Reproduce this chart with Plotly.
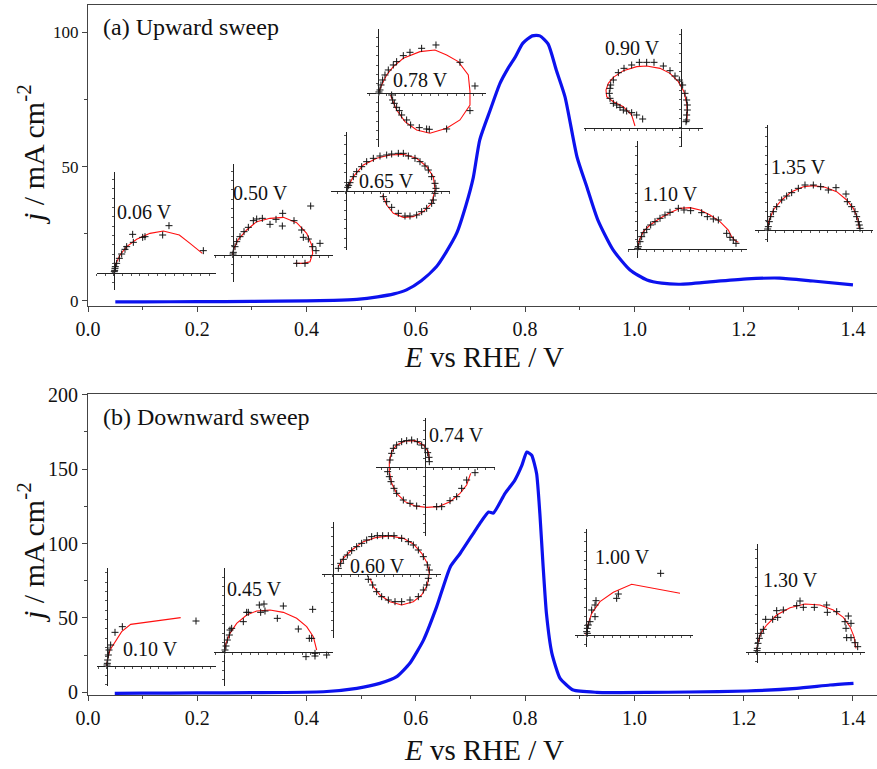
import plotly.graph_objects as go

# ---------------- figure geometry ----------------
FIG_W, FIG_H = 877, 769
M_L, M_R, M_T, M_B = 88, 0, 5, 74
PW = FIG_W - M_L - M_R
PH = FIG_H - M_T - M_B
FONT = "Liberation Serif"

# ---------------- main curves ----------------
E_up = [0.05, 0.10, 0.20, 0.30, 0.40, 0.45, 0.492, 0.53, 0.56, 0.583, 0.61, 0.638,
        0.655, 0.675, 0.692, 0.705, 0.717, 0.736, 0.754, 0.769, 0.781, 0.796, 0.813,
        0.827, 0.842, 0.857, 0.873, 0.895, 0.913, 0.933, 0.961, 0.992, 1.023, 1.05,
        1.084, 1.144, 1.206, 1.266, 1.327, 1.40]
j_up = [-0.4, -0.35, -0.3, -0.2, 0.0, 0.2, 0.6, 1.5, 2.6, 4.1, 7.5, 12.8,
        18.0, 25.3, 35.8, 45.8, 60.0, 71.0, 81.0, 86.7, 90.5, 96.0, 98.7,
        98.7, 95.7, 86.0, 76.0, 53.6, 42.4, 30.2, 19.0, 11.5, 7.8, 6.6,
        6.2, 7.2, 8.2, 8.5, 7.4, 6.0]

E_down = [0.049, 0.10, 0.20, 0.30, 0.431, 0.492, 0.534, 0.565, 0.589, 0.614, 0.638,
          0.663, 0.681, 0.705, 0.717, 0.733, 0.742, 0.763, 0.781, 0.794, 0.803,
          0.812, 0.821, 0.827, 0.833, 0.839, 0.849, 0.864, 0.888, 0.931, 1.023,
          1.10, 1.206, 1.297, 1.358, 1.401]
j_down = [-0.7, -0.6, -0.4, -0.2, 0.4, 2.7, 6.0, 10.5, 19.5, 35.1, 57.4,
          84.3, 93.3, 106.7, 113.4, 121.2, 120.5, 133.6, 142.5, 152.5, 161.5,
          159.3, 147.0, 120.1, 84.3, 53.0, 26.2, 9.4, 1.5, 0.0, -0.1,
          0.2, 0.9, 2.7, 4.9, 6.0]

x_ticks_major = 0.2
x_ticks_minor = 0.1

# ---------------- impedance insets (Z' right, -Z'' up, arbitrary units) ----------------
# (a) upward sweep
fit_a006 = [(0, 0), (6, 28), (18, 53), (38, 78), (68, 100), (108, 118), (148, 125),
            (196, 113), (228, 88), (265, 58)]
pts_a006 = [(1, 3), (2, 7), (3, 13), (4, 18), (8, 28), (16, 43), (23, 56), (33, 70),
            (38, 78), (56, 115), (58, 91), (86, 106), (93, 108), (146, 113), (165, 141),
            (268, 66)]

fit_a050 = [(0, 0), (4, 20), (17, 47), (42, 75), (72, 100), (112, 110), (152, 113),
            (192, 97), (222, 65), (237, 30), (240, 5), (232, -20), (212, -25), (187, -25)]
pts_a050 = [(1, 3), (2, 8), (7, 25), (12, 40), (22, 55), (34, 70), (47, 83), (62, 103),
            (72, 108), (89, 110), (112, 92), (130, 107), (149, 87), (150, 125),
            (184, 103), (207, 75), (212, 53), (227, 48), (234, 147), (240, 25),
            (250, 13), (262, 35), (192, -25), (217, -25)]

fit_a065 = [(5, 12), (22, 44), (52, 79), (92, 99), (132, 109), (172, 111), (212, 99),
            (242, 74), (262, 44), (267, 4), (257, -36), (232, -61), (202, -76),
            (172, -78), (142, -66), (122, -41), (110, -11)]
pts_a065 = [(5, 12), (8, 18), (12, 26), (22, 44), (32, 59), (47, 74), (62, 89), (82, 99),
            (102, 106), (122, 109), (137, 112), (157, 114), (172, 114), (187, 106),
            (207, 99), (222, 89), (237, 76), (247, 64), (257, 44), (267, 24), (270, 9),
            (267, -6), (262, -26), (257, -36), (242, -51), (227, -61), (212, -71),
            (192, -74), (177, -74), (157, -66), (137, -48), (122, -31), (112, -16)]

fit_a078 = [(2, 5), (10, 25), (25, 55), (45, 80), (75, 105), (125, 125), (170, 130),
            (205, 115), (240, 95), (270, 55), (275, 5), (275, -35), (245, -80),
            (205, -105), (155, -120), (115, -110), (80, -85), (55, -50), (40, -15),
            (37, -5)]
pts_a078 = [(2, 4), (5, 10), (8, 25), (13, 40), (20, 55), (30, 70), (45, 85), (55, 95),
            (75, 113), (95, 123), (130, 135), (173, 145), (245, 93), (290, 22),
            (275, -52), (40, -5), (43, -20), (48, -30), (55, -42), (63, -52), (70, -65),
            (85, -80), (97, -95), (123, -103), (145, -107), (153, -108), (205, -107)]

fit_a090 = [(-138, 5), (-148, 38), (-173, 63), (-203, 78), (-223, 93), (-225, 113),
            (-218, 133), (-203, 151), (-173, 171), (-133, 183), (-103, 185), (-63, 178),
            (-33, 163), (-8, 138), (9, 108), (17, 73), (19, 43), (17, 18)]
pts_a090 = [(-115, 26), (-133, 38), (-148, 45), (-163, 50), (-173, 53), (-183, 61),
            (-193, 68), (-203, 73), (-213, 88), (-215, 103), (-213, 118), (-211, 128),
            (-203, 143), (-188, 165), (-171, 178), (-148, 188), (-125, 196), (-103, 196),
            (-81, 196), (-53, 185), (-33, 171), (-18, 155), (-5, 143), (5, 128),
            (12, 103), (17, 83), (19, 68), (19, 53), (17, 38), (17, 23), (15, 18)]

fit_a110 = [(0, 0), (6, 28), (18, 53), (38, 73), (68, 93), (98, 110), (128, 123),
            (158, 125), (188, 118), (218, 103), (248, 83), (273, 58), (283, 38),
            (293, 26), (303, 21)]
pts_a110 = [(1, 3), (3, 8), (8, 23), (13, 38), (20, 50), (28, 60), (40, 73), (53, 83),
            (68, 93), (83, 103), (98, 111), (123, 123), (140, 118), (160, 116),
            (193, 110), (210, 98), (228, 91), (243, 88), (268, 48), (278, 36),
            (288, 28), (296, 18)]

fit_a135 = [(0, 0), (4, 25), (18, 60), (43, 90), (73, 115), (108, 130), (138, 133),
            (173, 128), (208, 115), (238, 90), (258, 65), (271, 35), (276, 5)]
pts_a135 = [(1, 3), (3, 10), (6, 25), (10, 40), (18, 55), (28, 70), (43, 90), (58, 102),
            (73, 112), (93, 125), (113, 135), (138, 135), (160, 130), (183, 120),
            (206, 127), (236, 108), (240, 85), (253, 70), (263, 55), (268, 40),
            (273, 25), (276, 15), (278, 5)]

# (b) downward sweep
fit_b010 = [(0, 0), (3, 23), (10, 48), (25, 73), (45, 103), (72, 125), (222, 145)]
pts_b010 = [(1, 3), (2, 8), (3, 18), (5, 33), (7, 48), (12, 63), (25, 101), (47, 118),
            (268, 135)]

fit_b045 = [(0, 0), (5, 25), (17, 55), (37, 85), (67, 110), (97, 122), (137, 125),
            (177, 118), (217, 100), (247, 75), (267, 45), (277, 5)]
pts_b045 = [(2, 5), (5, 17), (9, 35), (15, 50), (17, 65), (22, 70), (57, 90), (67, 118),
            (72, 118), (105, 140), (119, 143), (109, 118), (122, 122), (159, 100),
            (177, 137), (222, 68), (255, 40), (262, 40), (265, 127), (245, -15),
            (272, -13), (307, -10), (272, -5)]

fit_b060 = [(17, 23), (32, 48), (57, 73), (92, 98), (132, 111), (172, 115), (212, 108),
            (242, 91), (267, 63), (284, 33), (290, 3), (284, -32), (267, -62),
            (242, -82), (207, -92), (172, -82), (142, -62), (122, -37), (112, -12)]
pts_b060 = [(17, 18), (24, 33), (32, 45), (44, 58), (57, 71), (72, 83), (87, 93),
            (102, 103), (117, 113), (134, 116), (150, 116), (167, 116), (184, 116),
            (207, 108), (227, 98), (242, 88), (257, 73), (272, 53), (284, 28),
            (290, 13), (287, -12), (282, -32), (272, -47), (257, -67), (232, -77),
            (207, -82), (187, -82), (167, -77), (147, -67), (132, -52), (120, -32),
            (107, -15)]

fit_b074 = [(13, 22), (10, 47), (-5, 67), (-30, 80), (-60, 79), (-85, 67), (-100, 47),
            (-107, 17), (-107, -13), (-100, -48), (-85, -78), (-60, -103), (-30, -116),
            (5, -120), (40, -118), (75, -103), (105, -78), (125, -53), (137, -18)]
pts_b074 = [(13, 17), (12, 30), (8, 44), (0, 57), (-10, 67), (-23, 77), (-40, 82),
            (-55, 80), (-70, 77), (-85, 67), (-95, 57), (-100, 42), (-105, 22),
            (-112, -13), (-107, -28), (-102, -43), (-93, -63), (-85, -78), (-65, -98),
            (-45, -108), (-25, -116), (35, -118), (50, -118), (75, -100), (95, -88),
            (110, -63), (125, -38), (150, -16)]

fit_b100 = [(0, 0), (4, 25), (17, 65), (42, 100), (82, 128), (137, 152), (282, 125)]
pts_b100 = [(2, 10), (4, 5), (4, 20), (7, 30), (12, 40), (17, 75), (27, 90), (30, 103),
            (27, 55), (92, 110), (97, 123), (224, 185)]

fit_b130 = [(0, 0), (3, 25), (12, 55), (30, 80), (60, 110), (100, 132), (145, 143),
            (190, 140), (230, 125), (260, 103), (280, 75), (292, 45), (298, 10)]
pts_b130 = [(1, 3), (2, 10), (4, 25), (8, 40), (13, 55), (20, 67), (27, 97), (48, 97),
            (60, 123), (63, 103), (80, 125), (120, 138), (130, 152), (140, 133),
            (173, 133), (210, 140), (212, 118), (240, 120), (265, 90), (275, 107),
            (283, 85), (268, 70), (270, 42), (283, 42), (295, 27), (303, 15)]

inset_labels = ["0.06 V", "0.50 V", "0.65 V", "0.78 V", "0.90 V", "1.10 V", "1.35 V",
                "0.10 V", "0.45 V", "0.60 V", "0.74 V", "1.00 V", "1.30 V"]

# ---------------- inset placement (layout only) ----------------
UNIT = 3.0  # inset units per screen pixel
inset_layout = [
    # origin px (x, y), x range, y range, label position (inset units)
    dict(org=(114.0, 272.67), xr=(-52, 306), yr=(-52, 303), lab=(93, 181)),
    dict(org=(232.67, 255.0), xr=(-56, 300), yr=(-80, 273), lab=(82, 185)),
    dict(org=(346.0, 191.33), xr=(-46, 312), yr=(-176, 177), lab=(122, 31)),
    dict(org=(378.3, 93.3), xr=(-33, 323), yr=(-160, 192), lab=(127, 40)),
    dict(org=(681.0, 127.67), xr=(-291, 65), yr=(-57, 295), lab=(-145, 238)),
    dict(org=(637.33, 249.33), xr=(-27, 328), yr=(-27, 326), lab=(98, 165)),
    dict(org=(767.33, 230.0), xr=(-37, 316), yr=(-35, 315), lab=(93, 190)),
    dict(org=(106.67, 666.0), xr=(-30, 328), yr=(-60, 293), lab=(130, 50)),
    dict(org=(224.33, 651.67), xr=(-31, 325), yr=(-103, 250), lab=(92, 188)),
    dict(org=(332.67, 574.33), xr=(-33, 324), yr=(-192, 158), lab=(134, 26)),
    dict(org=(425.0, 467.33), xr=(-147, 210), yr=(-205, 147), lab=(95, 97)),
    dict(org=(586.0, 635.0), xr=(-33, 322), yr=(-35, 317), lab=(110, 235)),
    dict(org=(756.67, 651.67), xr=(-32, 325), yr=(-33, 322), lab=(102, 215)),
]
inset_fits = [fit_a006, fit_a050, fit_a065, fit_a078, fit_a090, fit_a110, fit_a135,
              fit_b010, fit_b045, fit_b060, fit_b074, fit_b100, fit_b130]
inset_pts = [pts_a006, pts_a050, pts_a065, pts_a078, pts_a090, pts_a110, pts_a135,
             pts_b010, pts_b045, pts_b060, pts_b074, pts_b100, pts_b130]


def px_to_paper_x(px):
    return (px - M_L) / PW


def px_to_paper_y(py):
    return (FIG_H - M_B - py) / PH


fig = go.Figure()

BLUE = "#0c12ee"
fig.add_trace(go.Scatter(x=E_up, y=j_up, xaxis="x", yaxis="y", mode="lines",
                         line=dict(color=BLUE, width=3.2, shape="spline", smoothing=0.6),
                         hoverinfo="skip"))
fig.add_trace(go.Scatter(x=E_down, y=j_down, xaxis="x2", yaxis="y2", mode="lines",
                         line=dict(color=BLUE, width=3.2, shape="spline", smoothing=0.5),
                         hoverinfo="skip"))

top_dom = [px_to_paper_y(306), 1.0]
bot_dom = [0.0, px_to_paper_y(394.3)]

axis_common = dict(showgrid=False, zeroline=False, showline=True, linecolor="#444",
                   linewidth=1, ticks="outside", ticklen=5, tickcolor="#444",
                   automargin=False,
                   tickfont=dict(family=FONT, size=20, color="#111"), fixedrange=True)

layout = dict(
    template="none",
    width=FIG_W, height=FIG_H, autosize=False,
    margin=dict(l=M_L, r=M_R, t=M_T, b=M_B, pad=0),
    paper_bgcolor="white", plot_bgcolor="rgba(0,0,0,0)",
    showlegend=False,
    font=dict(family=FONT),
    xaxis=dict(**axis_common, domain=[0, 1], range=[0, 1.444], anchor="y", mirror=True,
               dtick=x_ticks_major, tick0=0, tickformat=".1f",
               minor=dict(ticks="outside", ticklen=3, dtick=x_ticks_minor, tickcolor="#444")),
    xaxis2=dict(**axis_common, domain=[0, 1], range=[0, 1.444], anchor="y2", mirror=True,
                dtick=x_ticks_major, tick0=0, tickformat=".1f",
                minor=dict(ticks="outside", ticklen=3, dtick=x_ticks_minor, tickcolor="#444")),
    yaxis=dict(**{**axis_common, "tickfont": dict(family=FONT, size=17, color="#111")},
               domain=top_dom, range=[-1.9, 110.2], anchor="x", dtick=50, tick0=0,
               minor=dict(ticks="outside", ticklen=3, dtick=25, tickcolor="#444")),
    yaxis2=dict(**{**axis_common, "tickfont": dict(family=FONT, size=20, color="#111")},
                domain=bot_dom, range=[-1.8, 200.3], anchor="x2", dtick=50, tick0=0,
                minor=dict(ticks="outside", ticklen=3, dtick=25, tickcolor="#444")),
)

annotations = [
    dict(text="(a) Upward sweep", x=px_to_paper_x(101), y=px_to_paper_y(27.3),
         xref="paper", yref="paper", xanchor="left", yanchor="middle", showarrow=False,
         font=dict(family=FONT, size=24, color="#111")),
    dict(text="(b) Downward sweep", x=px_to_paper_x(101), y=px_to_paper_y(416.7),
         xref="paper", yref="paper", xanchor="left", yanchor="middle", showarrow=False,
         font=dict(family=FONT, size=24, color="#111")),
    dict(text="<i>E</i> vs RHE / V", x=px_to_paper_x(483.7), y=px_to_paper_y(357),
         xref="paper", yref="paper", xanchor="center", yanchor="middle", showarrow=False,
         font=dict(family=FONT, size=29, color="#111")),
    dict(text="<i>E</i> vs RHE / V", x=px_to_paper_x(483.7), y=px_to_paper_y(750),
         xref="paper", yref="paper", xanchor="center", yanchor="middle", showarrow=False,
         font=dict(family=FONT, size=29, color="#111")),
    dict(text="<i>j</i> / mA cm<sup>-2</sup>", x=px_to_paper_x(31), y=px_to_paper_y(155),
         xref="paper", yref="paper", xanchor="center", yanchor="middle", showarrow=False,
         textangle=-90, font=dict(family=FONT, size=30, color="#111")),
    dict(text="<i>j</i> / mA cm<sup>-2</sup>", x=px_to_paper_x(31), y=px_to_paper_y(553),
         xref="paper", yref="paper", xanchor="center", yanchor="middle", showarrow=False,
         textangle=-90, font=dict(family=FONT, size=30, color="#111")),
]

for i, (geo, fit, pts, lab) in enumerate(zip(inset_layout, inset_fits, inset_pts, inset_labels)):
    n = i + 3
    ox, oy = geo["org"]
    xr, yr = geo["xr"], geo["yr"]
    xd = [px_to_paper_x(ox + xr[0] / UNIT), px_to_paper_x(ox + xr[1] / UNIT)]
    yd = [px_to_paper_y(oy - yr[0] / UNIT), px_to_paper_y(oy - yr[1] / UNIT)]
    layout[f"xaxis{n}"] = dict(domain=xd, range=list(xr), anchor="free",
                               position=px_to_paper_y(oy), showline=True,
                               linecolor="#222", linewidth=1, ticks="outside", ticklen=2,
                               tickcolor="#555", tickwidth=1, tick0=0, dtick=26,
                               showticklabels=False, showgrid=False, zeroline=False,
                               automargin=False, fixedrange=True)
    layout[f"yaxis{n}"] = dict(domain=yd, range=list(yr), anchor="free",
                               position=px_to_paper_x(ox), showline=True,
                               linecolor="#222", linewidth=1, ticks="outside", ticklen=2,
                               tickcolor="#555", tickwidth=1, tick0=0, dtick=28,
                               showticklabels=False, showgrid=False, zeroline=False,
                               automargin=False, fixedrange=True)
    fx = [p[0] for p in fit]
    fy = [p[1] for p in fit]
    mx = [p[0] for p in pts]
    my = [p[1] for p in pts]
    fig.add_trace(go.Scatter(x=fx, y=fy, xaxis=f"x{n}", yaxis=f"y{n}", mode="lines",
                             line=dict(color="#ff1010", width=1.1), hoverinfo="skip"))
    fig.add_trace(go.Scatter(x=mx, y=my, xaxis=f"x{n}", yaxis=f"y{n}", mode="markers",
                             marker=dict(symbol="cross-thin", size=5,
                                         line=dict(color="#111", width=1)),
                             hoverinfo="skip", cliponaxis=False))
    annotations.append(dict(text=lab, x=geo["lab"][0], y=geo["lab"][1],
                            xref=f"x{n}", yref=f"y{n}", xanchor="center",
                            yanchor="middle", showarrow=False,
                            font=dict(family=FONT, size=20, color="#111")))

layout["annotations"] = annotations
fig.update_layout(**layout)
fig.write_html("out.html", config={"displayModeBar": False},
               post_script="document.body.style.margin='0px';")
